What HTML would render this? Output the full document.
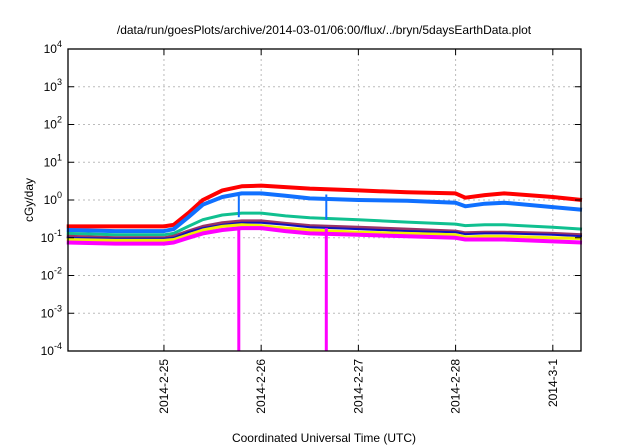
<!DOCTYPE html>
<html><head><meta charset="utf-8"><style>
body{margin:0;background:#fff}
svg{display:block;font-family:"Liberation Sans",sans-serif}
</style></head><body>
<svg id="chart" width="640" height="448" viewBox="0 0 640 448">
<rect width="640" height="448" fill="#fff"/>
<text x="324" y="34" font-size="12" text-anchor="middle">/data/run/goesPlots/archive/2014-03-01/06:00/flux/../bryn/5daysEarthData.plot</text>
<text transform="translate(33,200) rotate(-90)" font-size="12" text-anchor="middle">cGy/day</text>
<text x="324" y="442" font-size="12" text-anchor="middle">Coordinated Universal Time (UTC)</text>
<g id="grid"></g><g id="series"></g><g id="axes"></g>
</svg>
<script>
const xTickDays=[1,2,3,4,5];
const xTickLabels=["2014-2-25","2014-2-26","2014-2-27","2014-2-28","2014-3-1"];
const yTickExps=[-4,-3,-2,-1,0,1,2,3,4];
const times=[0,0.5,1,1.1,1.25,1.4,1.6,1.8,2,2.25,2.5,3,3.5,4,4.1,4.3,4.5,5,5.3];
const red=[0.2,0.2,0.2,0.22,0.45,1.0,1.8,2.3,2.4,2.2,2.0,1.8,1.6,1.5,1.15,1.35,1.5,1.2,1.0];
const blue=[0.16,0.15,0.15,0.17,0.35,0.75,1.2,1.5,1.5,1.3,1.1,1.0,0.95,0.85,0.68,0.8,0.85,0.65,0.55];
const green=[0.13,0.12,0.12,0.13,0.2,0.3,0.4,0.45,0.45,0.38,0.34,0.3,0.26,0.23,0.21,0.22,0.22,0.19,0.17];
const maroon=[0.11,0.1,0.1,0.11,0.15,0.2,0.25,0.28,0.28,0.24,0.21,0.19,0.17,0.15,0.135,0.14,0.14,0.13,0.12];
const navy=[0.1,0.095,0.095,0.1,0.14,0.18,0.22,0.25,0.25,0.22,0.19,0.17,0.15,0.14,0.125,0.13,0.13,0.12,0.11];
const yellow=[0.09,0.085,0.085,0.09,0.12,0.16,0.2,0.22,0.21,0.18,0.16,0.14,0.13,0.12,0.105,0.11,0.11,0.1,0.095];
const magenta=[0.075,0.07,0.07,0.075,0.1,0.13,0.16,0.18,0.18,0.15,0.13,0.12,0.11,0.1,0.09,0.09,0.09,0.08,0.075];
const spikeTimes=[1.77,2.67];
const spikeBlueLow=[0.35,0.3];
const spikeMagentaLow=[0.0001,0.0001];
const X0=68,X1=581,Y0=49,Y1=351,D0=0.013,D1=5.29;
function xs(d){return X0+(d-D0)/(D1-D0)*(X1-X0);}
function ys(v){return Y0+(4-Math.log10(v))/8*(Y1-Y0);}
const NS="http://www.w3.org/2000/svg";
function mk(tag,attrs,parent){const e=document.createElementNS(NS,tag);for(const k in attrs)e.setAttribute(k,attrs[k]);parent.appendChild(e);return e;}
const grid=document.getElementById('grid'),ser=document.getElementById('series'),ax=document.getElementById('axes');
yTickExps.forEach(p=>{const y=ys(Math.pow(10,p));
 if(p>-4&&p<4){const g=mk('line',{x1:X0,x2:X1,y1:y,y2:y,stroke:'#bbb','stroke-dasharray':'2,3'},grid);
 
 }
 mk('line',{x1:X0,x2:X0+6,y1:y,y2:y,stroke:'#000'},ax);
 mk('line',{x1:X1,x2:X1-6,y1:y,y2:y,stroke:'#000'},ax);
 const t=mk('text',{x:X0-6,y:y+4,'font-size':12,'text-anchor':'end'},ax);
 
 
 t.innerHTML='10<tspan dy="-6" font-size="9">'+p+'</tspan>';});
xTickDays.forEach((d,i)=>{const x=xs(d);
 const g=mk('line',{x1:x,x2:x,y1:Y0,y2:Y1,stroke:'#bbb','stroke-dasharray':'2,3'},grid);
 
 
 mk('line',{x1:x,x2:x,y1:Y1,y2:Y1-6,stroke:'#000'},ax);
 mk('line',{x1:x,x2:x,y1:Y0,y2:Y0+6,stroke:'#000'},ax);
 const t=mk('text',{transform:`translate(${x+4},${Y1+8}) rotate(-90)`,'font-size':12,'text-anchor':'end'},ax);
 
 
 t.textContent=xTickLabels[i];});
const fr=mk('rect',{x:X0,y:Y0,width:X1-X0,height:Y1-Y0,fill:'none',stroke:'#000','stroke-width':1.3},ax);


const sorted=[[red,'#ff0000','red',4],[blue,'#1070ff','blue',4],[green,'#10c090','green',3],[maroon,'#993366','maroon',3],[navy,'#1010c0','navy',2],[yellow,'#f0f000','yellow',3],[magenta,'#ff00ff','magenta',4]];
sorted.forEach(([arr,col,nm,w])=>{
 const d=arr.map((v,i)=>(i?'L':'M')+xs(times[i]).toFixed(1)+','+ys(v).toFixed(1)).join('');
 const p=mk('path',{d:d,fill:'none',stroke:col,'stroke-width':w,'stroke-linejoin':'round'},ser);
 
 });
spikeTimes.forEach((t,i)=>{const x=xs(t);
 const b=mk('line',{x1:x,x2:x,y1:ys(1.4),y2:ys(spikeBlueLow[i]),stroke:'#1070ff','stroke-width':2},ser);
 
 
 const m=mk('line',{x1:x,x2:x,y1:ys(0.18),y2:ys(spikeMagentaLow[i]),stroke:'#ff00ff','stroke-width':3},ser);
 
 });
</script>
</body></html>
